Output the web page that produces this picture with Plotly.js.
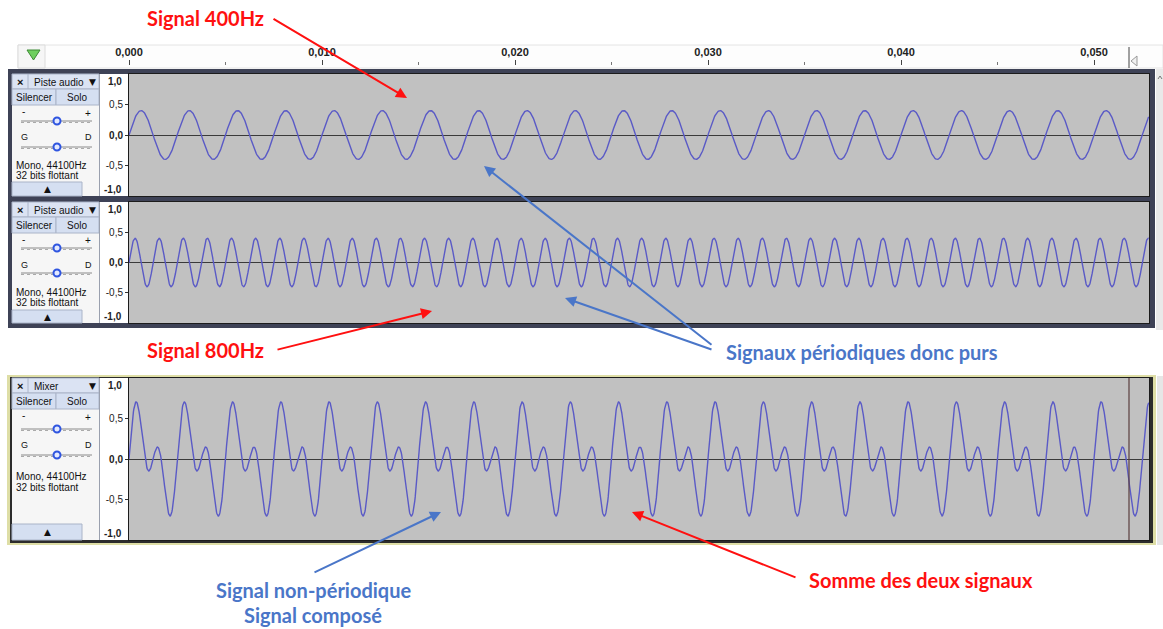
<!DOCTYPE html>
<html>
<head>
<meta charset="utf-8">
<script src="https://cdn.plot.ly/plotly-3.0.1.min.js"></script>
<style>
  html, body { margin: 0; padding: 0; background: #ffffff; }
  #chart { width: 1163px; height: 629px; }
</style>
</head>
<body>
<div id="chart"></div>
<script>
// ---- data ----
const timeTicks = [0, 0.01, 0.02, 0.03, 0.04, 0.05];
const timeTickLabels = ['0,000', '0,010', '0,020', '0,030', '0,040', '0,050'];
const timeSpan = [0, 0.05285];               // seconds shown in the window

const ampTicks = [0.5, 0, -0.5];
const ampTickLabels = ['0,5', '<b>0,0</b>', '-0,5'];
const ampEndLabels = ['1,0', '-1,0'];

const trackNames = ['Piste audio', 'Piste audio', 'Mixer'];
const trackFormat = ['Mono, 44100Hz', '32 bits flottant'];

const toneFrequencies = [400, 800];          // Hz
const toneAmplitudes = [0.4, 0.4];
const sampleRate = 44100;                    // samples per second

// ---- page geometry helpers (layout is 1:1 with pixels) ----
const W = 1163, H = 629;
const px = x => x / W;
const py = y => 1 - y / H;

// ---- samples ----
const nSamples = Math.floor(timeSpan[1] * sampleRate) + 1;
const t = [];
for (let n = 0; n < nSamples; n++) t.push(n / sampleRate);
const tones = toneFrequencies.map((f, k) =>
  t.map(s => toneAmplitudes[k] * Math.sin(2 * Math.PI * f * s)));
const mix = t.map((_, i) => tones[0][i] + tones[1][i]);

const waveColor = '#5a5ac6';
const traces = [
  { x: t, y: tones[0], xaxis: 'x',  yaxis: 'y'  },
  { x: t, y: tones[1], xaxis: 'x2', yaxis: 'y2' },
  { x: t, y: mix,      xaxis: 'x3', yaxis: 'y3' },
].map(tr => Object.assign(tr, {
  type: 'scatter', mode: 'lines', hoverinfo: 'skip', showlegend: false,
  line: { color: waveColor, width: 1.4 }
}));
// empty trace that carries the time ruler
traces.push({ x: [], y: [], xaxis: 'x4', yaxis: 'y4', type: 'scatter', showlegend: false });

// track vertical extents (top, bottom of the waveform area) in pixels
const tracks = [
  { top: 74,  bottom: 196, titleB: 89,  btnB: 105, pm: 114, s1: 121, gd: 137, s2: 147, mono: 165, bits: 175, upTop: 182 },
  { top: 202, bottom: 323, titleB: 217, btnB: 233, pm: 241, s1: 248, gd: 265, s2: 273, mono: 292, bits: 302, upTop: 310 },
  { top: 378, bottom: 540, titleB: 393, btnB: 409, pm: 418, s1: 429, gd: 445, s2: 455, mono: 476, bits: 487, upTop: 524 },
];
const plotLeft = 129, plotRight = 1149;

const shapes = [];
const annotations = [];
const uiFont = 'Liberation Sans, Arial, sans-serif';

function rect(x0, y0, x1, y1, fill, line, lw) {
  shapes.push({ type: 'rect', xref: 'paper', yref: 'paper', layer: 'below',
    x0: px(x0), x1: px(x1), y0: py(y1), y1: py(y0), fillcolor: fill,
    line: { color: line || fill, width: line ? (lw || 1) : 0 } });
}
function seg(x0, y0, x1, y1, color, width, dash, layer) {
  shapes.push({ type: 'line', xref: 'paper', yref: 'paper', layer: layer || 'below',
    x0: px(x0), x1: px(x1), y0: py(y0), y1: py(y1),
    line: { color: color, width: width || 1, dash: dash || 'solid' } });
}
function circle(cx, cy, r, fill, line) {
  shapes.push({ type: 'circle', xref: 'paper', yref: 'paper', layer: 'below',
    x0: px(cx - r), x1: px(cx + r), y0: py(cy + r), y1: py(cy - r),
    fillcolor: fill, line: { color: line, width: 2 } });
}
function txt(x, y, text, o) {
  o = o || {};
  annotations.push({ xref: 'paper', yref: 'paper', x: px(x), y: py(y), text: text,
    showarrow: false, xanchor: o.xa || 'center', yanchor: 'middle',
    font: { family: o.family || uiFont, size: o.size || 10, color: o.color || '#111' } });
}
function arrow(tx, ty, hx, hy, color) {
  annotations.push({ xref: 'paper', yref: 'paper', x: px(hx), y: py(hy), text: '',
    showarrow: true, ax: tx - hx, ay: ty - hy, arrowcolor: color,
    arrowhead: 2, arrowsize: 1.1, arrowwidth: 2, standoff: 0 });
}

// ---- time ruler ----
rect(18, 45, 1163, 68, '#fdfdfd', '#e4e4e4');
rect(18, 45, 45, 68, '#f6f6f6', '#dcdcdc');
shapes.push({ type: 'path', xref: 'paper', yref: 'paper', layer: 'below',
  path: `M ${px(27)} ${py(50)} L ${px(40)} ${py(50)} L ${px(33.5)} ${py(60)} Z`,
  fillcolor: '#6fcf5f', line: { color: '#3d8a35', width: 1 } });
seg(1129, 47, 1129, 68, '#444', 1);
shapes.push({ type: 'path', xref: 'paper', yref: 'paper', layer: 'below',
  path: `M ${px(1137)} ${py(56)} L ${px(1131)} ${py(61)} L ${px(1137)} ${py(66)} Z`,
  fillcolor: '#f0f0f0', line: { color: '#999', width: 1 } });

// ---- track frames ----
rect(8, 69, 1155, 328, '#3e4256');
rect(1156, 69, 1163, 330, '#e9e9e9');
seg(1158, 79, 1160, 76, '#777', 1);
seg(1160, 76, 1162, 79, '#777', 1);
rect(7, 375, 1156, 545, '#dedea6');
rect(10, 377, 1153, 543, '#2c2c2c');
rect(1157, 376, 1163, 545, '#e6e6e6');

tracks.forEach((tk, i) => {
  const { top, bottom } = tk;
  // control panel
  rect(12, top, 99, bottom, '#f6f6f6');
  rect(12, top, 99, tk.titleB, '#dbe3f3', '#aab4c8');
  seg(28, top, 28, tk.titleB, '#aab4c8', 1);
  txt(20, (top + tk.titleB) / 2 + 0.5, '<b>×</b>', { size: 11 });
  txt(32, (top + tk.titleB) / 2 + 0.5, trackNames[i], { xa: 'left' });
  txt(92, (top + tk.titleB) / 2 + 0.5, '▼', { size: 9, family: 'DejaVu Sans' });
  rect(12, tk.titleB, 56, tk.btnB, '#d5dff1', '#aab4c8');
  rect(56, tk.titleB, 99, tk.btnB, '#d5dff1', '#aab4c8');
  txt(34, (tk.titleB + tk.btnB) / 2 + 0.5, 'Silencer');
  txt(77, (tk.titleB + tk.btnB) / 2 + 0.5, 'Solo');
  // gain slider
  txt(23, tk.pm - 2, '-', { size: 10 });
  txt(88, tk.pm - 1, '+', { size: 10 });
  seg(21, tk.s1, 92, tk.s1, '#8a8a8a', 1);
  seg(21, tk.s1 + 1.5, 92, tk.s1 + 1.5, '#aaaaaa', 1, 'dot');
  circle(57, tk.s1, 3.5, '#e3e9ff', '#2f55e0');
  // pan slider
  txt(24, tk.gd, 'G', { size: 9 });
  txt(88, tk.gd, 'D', { size: 9 });
  seg(21, tk.s2, 92, tk.s2, '#8a8a8a', 1);
  seg(21, tk.s2 + 1.5, 92, tk.s2 + 1.5, '#aaaaaa', 1, 'dot');
  circle(57, tk.s2, 3.5, '#e3e9ff', '#2f55e0');
  // format
  txt(14, tk.mono, trackFormat[0], { xa: 'left' });
  txt(14, tk.bits, trackFormat[1], { xa: 'left' });
  rect(12, tk.upTop, 82, bottom, '#d5dff1', '#aab4c8');
  txt(47, (tk.upTop + bottom) / 2, '▲', { size: 9, family: 'DejaVu Sans' });
  seg(99.5, top, 99.5, bottom, '#9aa0ae', 1);
  // vertical ruler and waveform background
  rect(100, top, 128, bottom, '#ffffff');
  rect(128, top, plotRight + 1, bottom, '#c1c1c1');
});
// play-position marker on the mix track
seg(1129, 378, 1129, 540, '#5a3e3e', 1.2, 'solid', 'above');

// ---- axes ----
const baseX = {
  domain: [px(plotLeft), px(plotRight)], range: timeSpan.slice(),
  showticklabels: false, ticks: '', showgrid: false, zeroline: false,
  showline: true, mirror: true, linecolor: '#1c1c1c', linewidth: 1, fixedrange: true
};
function yAxis(tk, anchor) {
  return {
    anchor: anchor, domain: [py(tk.bottom), py(tk.top)], range: [-1, 1],
    tickmode: 'array', tickvals: ampTicks, ticktext: ampTickLabels,
    ticks: 'outside', ticklen: 3, tickcolor: '#333', tickwidth: 1,
    tickfont: { family: uiFont, size: 10, color: '#222' },
    showgrid: false, zeroline: true, zerolinecolor: '#3a3a3a', zerolinewidth: 1,
    showline: true, mirror: true, linecolor: '#1c1c1c', linewidth: 1, fixedrange: true
  };
}
// ±1,0 labels at the ends of each amplitude scale
['y', 'y2', 'y3'].forEach(ax => {
  [[1, -7, ampEndLabels[0]], [0, 7, ampEndLabels[1]]].forEach(([yy, sh, lab]) => {
    annotations.push({ xref: 'paper', yref: ax + ' domain', x: px(124), y: yy, yshift: sh,
      text: '<b>' + lab + '</b>', showarrow: false, xanchor: 'right', yanchor: 'middle',
      font: { family: uiFont, size: 10, color: '#222' } });
  });
});

// ---- annotations: labels and arrows ----
const red = '#ff1010', blue = '#4a76c8';
const noteFont = 'Lato, Open Sans, sans-serif';
function note(x, y, text, color) {
  txt(x, y, '<b>' + text + '</b>', { size: 20, color: color, family: noteFont });
}
note(205, 18, 'Signal 400Hz', red);
arrow(272, 18, 407, 98, red);
note(205, 350, 'Signal 800Hz', red);
arrow(276, 350, 432, 311, red);
note(862, 352, 'Signaux périodiques donc purs', blue);
arrow(713, 346, 484, 166, blue);
arrow(713, 350, 565, 298, blue);
note(313, 590, 'Signal non-périodique', blue);
note(313, 615, 'Signal composé', blue);
arrow(313, 573, 441, 512, blue);
note(921, 580, 'Somme des deux signaux', red);
arrow(797, 578, 632, 512, red);

const layout = {
  width: W, height: H, margin: { l: 0, r: 0, t: 0, b: 0 },
  paper_bgcolor: '#ffffff', plot_bgcolor: 'rgba(0,0,0,0)', showlegend: false,
  xaxis:  Object.assign({}, baseX, { anchor: 'y' }),
  xaxis2: Object.assign({}, baseX, { anchor: 'y2', matches: 'x' }),
  xaxis3: Object.assign({}, baseX, { anchor: 'y3', matches: 'x' }),
  xaxis4: {
    anchor: 'y4', side: 'top', domain: [px(plotLeft), px(plotRight)], range: timeSpan.slice(),
    tickmode: 'array', tickvals: timeTicks, ticktext: timeTickLabels,
    ticks: 'outside', ticklen: 5, tickcolor: '#444', tickwidth: 1,
    minor: { tickmode: 'linear', tick0: 0, dtick: 0.005, ticks: 'outside', ticklen: 3, tickcolor: '#777' },
    tickfont: { family: uiFont, size: 11, color: '#222', weight: 'bold' },
    showgrid: false, zeroline: false, showline: false, fixedrange: true
  },
  yaxis:  yAxis(tracks[0], 'x'),
  yaxis2: yAxis(tracks[1], 'x2'),
  yaxis3: yAxis(tracks[2], 'x3'),
  yaxis4: { anchor: 'x4', domain: [py(67), py(66)], visible: false, fixedrange: true },
  shapes: shapes,
  annotations: annotations
};

Plotly.newPlot('chart', traces, layout, { staticPlot: true, displayModeBar: false });
</script>
</body>
</html>
